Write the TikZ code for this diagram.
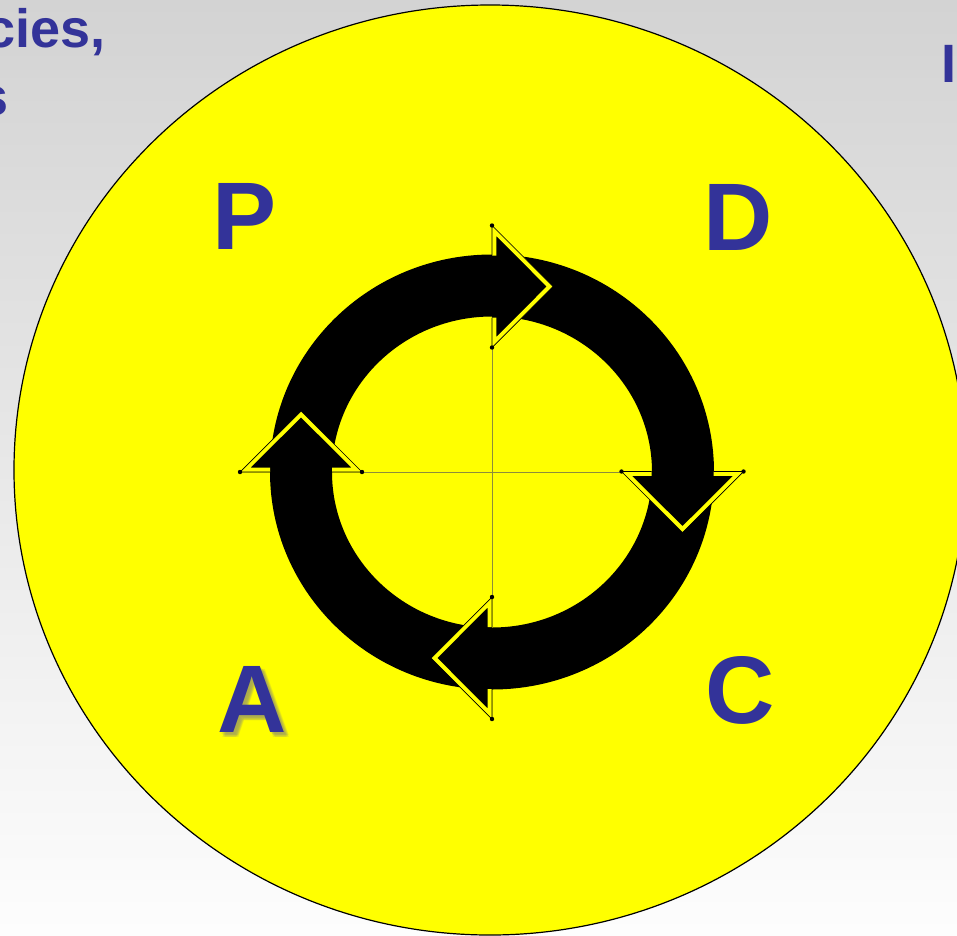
\documentclass[tikz,border=0pt]{standalone}
\usepackage{fontspec}
\setmainfont{Liberation Sans}
\definecolor{txtblue}{HTML}{333399}
\definecolor{ylw}{HTML}{FFFF00}
\definecolor{hair}{HTML}{8C8C3C}
\definecolor{bgtop}{HTML}{D3D3D3}
\definecolor{bgbot}{HTML}{FDFDFD}
\definecolor{shadowcol}{HTML}{8C8C70}
\newcommand\pdcahead[2]{%
  \begin{scope}[shift={#1}, rotate=#2]
    \fill[black] (0,-61) -- (61,0) -- (0,61) -- cycle;
    \draw[headrim] (2.2,-31) -- (2.2,-55.8) -- (57.8,0) -- (2.2,55.8) -- (2.2,31);
    \draw[headedge] (0,-31) -- (0,-61) -- (61,0) -- (0,61) -- (0,31);
    \fill[black] (0,-61) circle[radius=2.2];
    \fill[black] (0,61) circle[radius=2.2];
  \end{scope}}
\tikzset{
  letter/.style={text=txtblue, font=\fontsize{96}{100}\selectfont\bfseries, inner sep=0pt, anchor=base},
  shadowletter/.style={letter, text=shadowcol, text opacity=0.18},
  sidetxt/.style={text=txtblue, font=\fontsize{54}{60}\selectfont\bfseries, inner sep=0pt},
  headrim/.style={draw=ylw, line width=4.4pt, line join=miter},
  headedge/.style={draw=black, line width=0.7pt, line join=miter},
  hairline/.style={draw=hair, line width=0.6pt}
}
\begin{document}
\begin{tikzpicture}[x=1pt,y=-1pt]
\useasboundingbox (0,0) rectangle (957,935);
\clip (0,0) rectangle (957,935);
\shade[top color=bgtop, bottom color=bgbot] (0,0) rectangle (957,935);
% big yellow disc
\draw[fill=ylw, draw=black, line width=1.2pt] (490,470) ellipse [x radius=476, y radius=465];
% black ring
\fill[black, even odd rule] (492,472) ellipse [x radius=222, y radius=217.5]
                            (492,472) ellipse [x radius=160, y radius=155.5];
% thin cross lines
\coordinate (ctop) at (492,347);
\coordinate (cbot) at (492,597);
\coordinate (cleft) at (363,472);
\coordinate (cright) at (620,472);
\draw[hairline] (ctop) -- (cbot);
\draw[hairline] (cleft) -- (cright);
% arrow heads
\pdcahead{(492,286.5)}{0}
\pdcahead{(682.5,471.5)}{-90}
\pdcahead{(492,658)}{180}
\pdcahead{(301,472)}{90}
% letters
\node[letter] (P) at (245,249) {P};
\node[letter] (D) at (738,250) {D};
\node[shadowletter] (As1) at (254,734) {A};
\node[shadowletter] (As2) at (255,735) {A};
\node[shadowletter] (As3) at (256,736) {A};
\node[shadowletter] (As4) at (257,737) {A};
\node[shadowletter] (As5) at (255,737) {A};
\node[shadowletter] (As6) at (257,735) {A};
\node[letter] (A) at (252,732) {A};
\node[letter] (C) at (740,723) {C};
% cut-off side texts
\node[sidetxt, anchor=base east] (t1) at (106,47) {cies,};
\node[sidetxt, anchor=base east] (t2) at (9,115) {s};
\node[sidetxt, anchor=base west] (t3) at (941.5,82) {I};
\end{tikzpicture}
\end{document}
